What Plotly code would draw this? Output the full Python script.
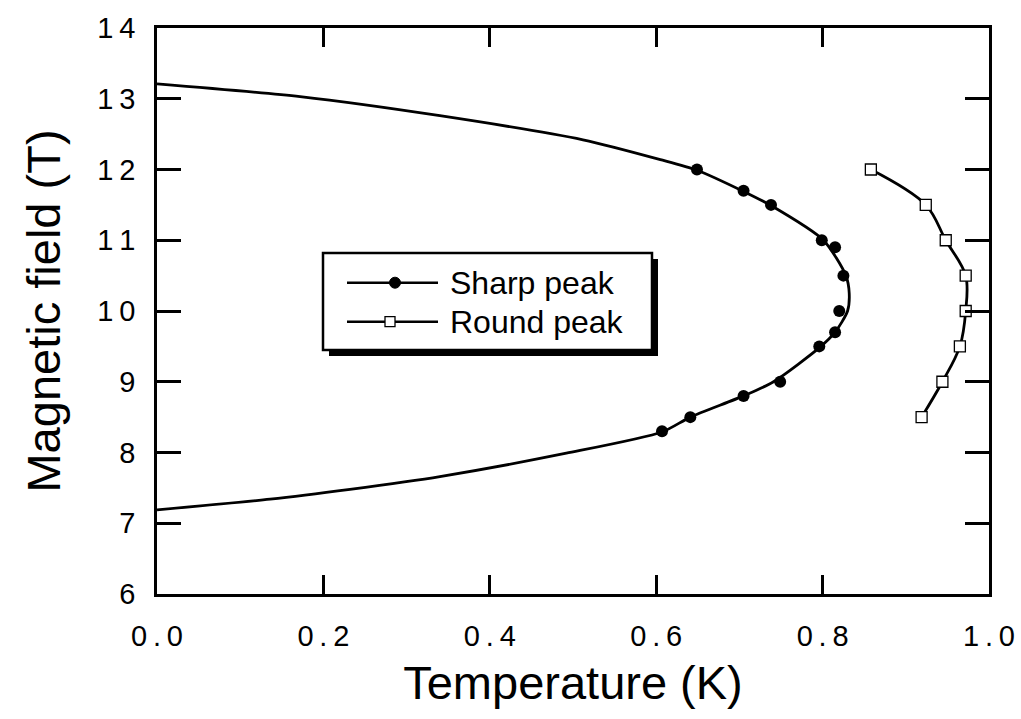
import plotly.graph_objects as go

# ---- data ----
sharp_T = [0.649, 0.705, 0.738, 0.799, 0.815, 0.825, 0.820, 0.815, 0.796, 0.749, 0.705, 0.641, 0.607]
sharp_B = [12.0, 11.7, 11.5, 11.0, 10.9, 10.5, 10.0, 9.7, 9.5, 9.0, 8.8, 8.5, 8.3]

round_T = [0.858, 0.924, 0.948, 0.972, 0.972, 0.965, 0.944, 0.919]
round_B = [12.0, 11.5, 11.0, 10.5, 10.0, 9.5, 9.0, 8.5]

# fitted boundary curve for sharp peak
fit_T = [0.0, 0.172, 0.34, 0.512, 0.605, 0.649, 0.705, 0.738, 0.801, 0.828, 0.832, 0.830,
         0.815, 0.798, 0.741, 0.705, 0.641, 0.607, 0.492, 0.34, 0.232, 0.136, 0.0]
fit_B = [13.21, 13.03, 12.76, 12.42, 12.14, 11.99, 11.69, 11.49, 11.0, 10.5, 10.25, 10.0,
         9.7, 9.5, 9.0, 8.8, 8.5, 8.29, 7.99, 7.66, 7.48, 7.34, 7.19]

x_ticks = [0.0, 0.2, 0.4, 0.6, 0.8, 1.0]
x_ticktext = ["0.0", "0.2", "0.4", "0.6", "0.8", "1.0"]
y_ticks = [6, 7, 8, 9, 10, 11, 12, 13, 14]
y_ticktext = ["6", "7", "8", "9", "10", "11", "12", "13", "14"]

series_names = ["Sharp peak", "Round peak"]

FONT = "Arial, 'Liberation Sans', sans-serif"
SP = "\u2009"


def spaced(s):
    return SP.join(list(s))


W, H = 1021, 719
L, R, T, B = 157, 32, 28, 125
PW, PH = W - L - R, H - T - B


def px(x):
    return (x - L) / PW


def py(y):
    return (H - B - y) / PH


fig = go.Figure()

fig.add_trace(go.Scatter(x=fit_T, y=fit_B, mode="lines",
                         line=dict(color="black", width=2.8, shape="spline", smoothing=0.7),
                         showlegend=False, hoverinfo="skip"))
fig.add_trace(go.Scatter(x=sharp_T, y=sharp_B, mode="markers", name=series_names[0],
                         marker=dict(symbol="circle", size=12, color="black"),
                         showlegend=False))
fig.add_trace(go.Scatter(x=round_T, y=round_B, mode="lines+markers", name=series_names[1],
                         line=dict(color="black", width=2.8, shape="spline", smoothing=1.0),
                         marker=dict(symbol="square", size=11, color="white",
                                     line=dict(color="black", width=1.3)),
                         showlegend=False))

axis_common = dict(
    showgrid=False, zeroline=False, showline=True, linecolor="black", linewidth=2.6,
    ticks="inside", tickcolor="black", tickwidth=2.6, mirror="ticks",
    tickfont=dict(family=FONT, size=29, color="black"),
)

fig.update_xaxes(range=[0, 1], tickvals=x_ticks, ticktext=[spaced(t) for t in x_ticktext],
                 ticklen=19, ticklabelstandoff=14,
                 title=dict(text="Temperature (K)", font=dict(family=FONT, size=47, color="black"),
                            standoff=16),
                 **axis_common)
fig.update_yaxes(range=[6, 14], tickvals=y_ticks, ticktext=[spaced(t) for t in y_ticktext],
                 ticklen=24, ticklabelstandoff=13,
                 title=dict(text="Magnetic field (T)", font=dict(family=FONT, size=47, color="black"),
                            standoff=22),
                 **axis_common)

# ---- legend box with drop shadow (drawn manually) ----
shapes = []
bx0, by0, bx1, by1 = 323, 253, 652, 350
sh = 6
shapes.append(dict(type="rect", xref="paper", yref="paper",
                   x0=px(bx0 + sh), x1=px(bx1 + sh), y0=py(by1 + sh), y1=py(by0 + sh),
                   fillcolor="black", line=dict(width=0), layer="above"))
shapes.append(dict(type="rect", xref="paper", yref="paper",
                   x0=px(bx0), x1=px(bx1), y0=py(by1), y1=py(by0),
                   fillcolor="white", line=dict(color="black", width=2.5), layer="above"))
rows = [282.7, 321.7]
for i, yy in enumerate(rows):
    shapes.append(dict(type="line", xref="paper", yref="paper",
                       x0=px(347), x1=px(438), y0=py(yy), y1=py(yy),
                       line=dict(color="black", width=2.5), layer="above"))
# markers in legend
shapes.append(dict(type="circle", xref="paper", yref="paper", xsizemode="pixel", ysizemode="pixel",
                   xanchor=px(395), yanchor=py(rows[0]), x0=-5.5, x1=5.5, y0=-5.5, y1=5.5,
                   fillcolor="black", line=dict(color="black", width=1), layer="above"))
shapes.append(dict(type="rect", xref="paper", yref="paper", xsizemode="pixel", ysizemode="pixel",
                   xanchor=px(390), yanchor=py(rows[1]), x0=-5, x1=5, y0=-5, y1=5,
                   fillcolor="white", line=dict(color="black", width=1.3), layer="above"))

annotations = []
for name, yy in zip(series_names, rows):
    annotations.append(dict(text=name, xref="paper", yref="paper", x=px(448), y=py(yy),
                            xanchor="left", yanchor="middle", showarrow=False,
                            font=dict(family=FONT, size=32, color="black")))

fig.update_layout(
    width=W, height=H,
    margin=dict(l=L, r=R, t=T, b=B, autoexpand=False),
    paper_bgcolor="white", plot_bgcolor="white",
    shapes=shapes, annotations=annotations,
    showlegend=False,
)

fig.write_html("out.html")
